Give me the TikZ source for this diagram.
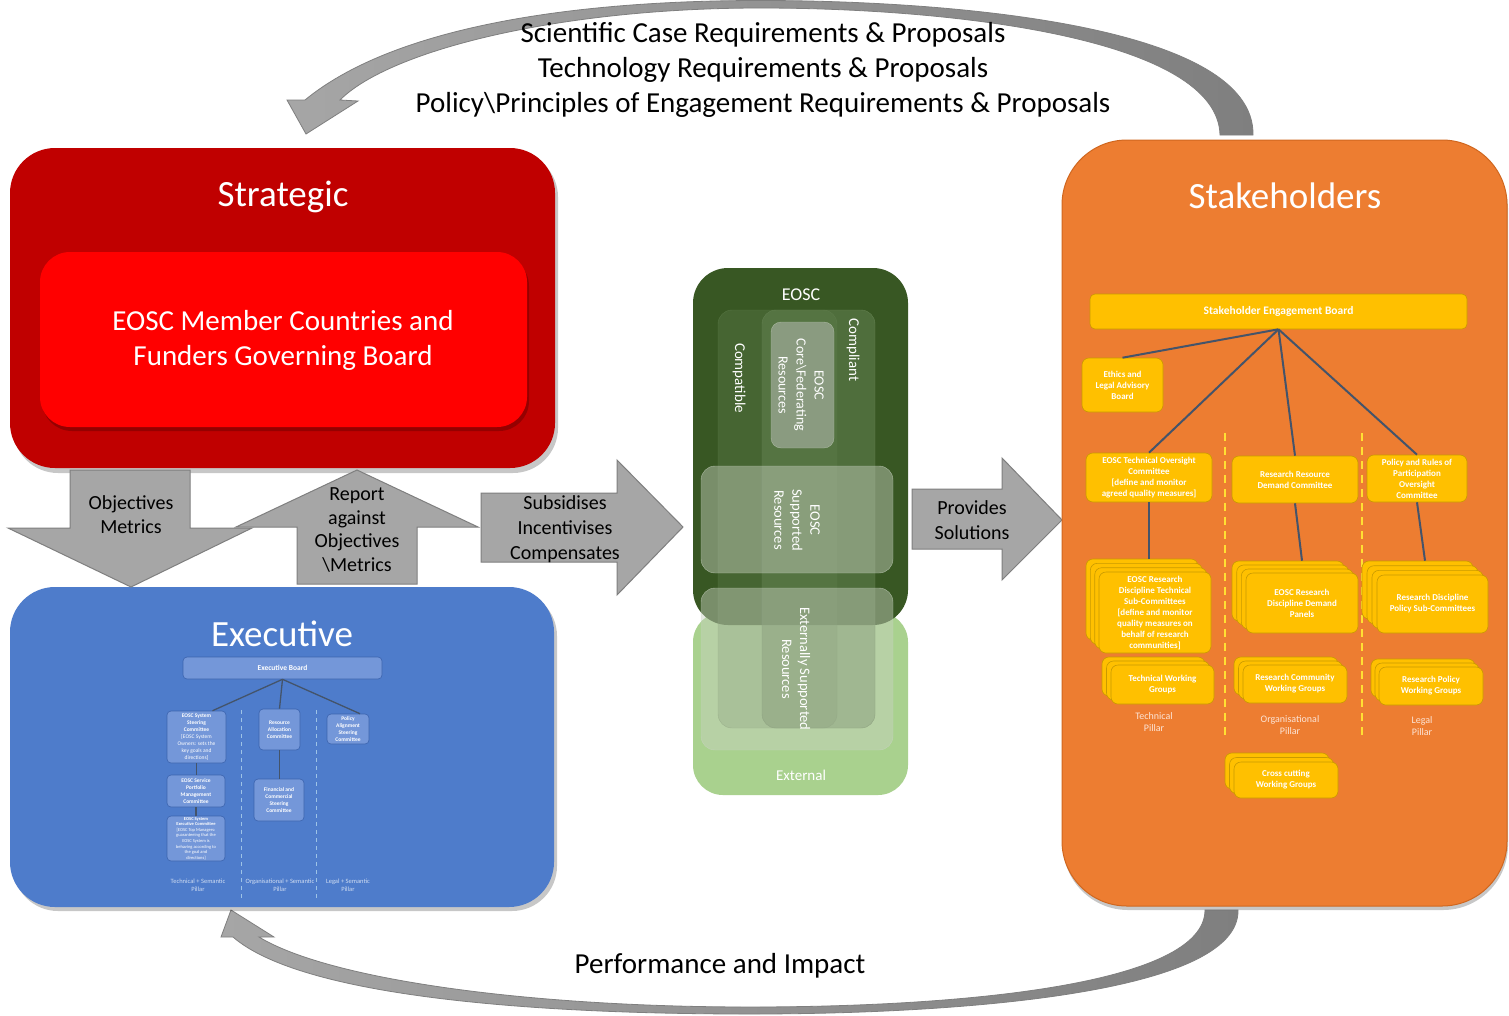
\documentclass[tikz,border=0pt]{standalone}
\usepackage{fontspec}
\setmainfont{Carlito}
\usetikzlibrary{calc}
\definecolor{stratdark}{HTML}{C00000}
\definecolor{stratred}{HTML}{FF0000}
\definecolor{execblue}{HTML}{4E7CCB}
\definecolor{execfill}{HTML}{7497D9}
\definecolor{execborder}{HTML}{3C64AE}
\definecolor{execpillar}{HTML}{D0DDF2}
\definecolor{execdash}{HTML}{9DC3E6}
\definecolor{stakeor}{HTML}{ED7D31}
\definecolor{stakeedge}{HTML}{D0671F}
\definecolor{stakeyel}{HTML}{FFC000}
\definecolor{yeledge}{HTML}{C99A00}
\definecolor{yeldash}{HTML}{FFE033}
\definecolor{pillaror}{HTML}{FCE4D6}
\definecolor{linkcol}{HTML}{44546A}
\definecolor{eoscdark}{HTML}{385723}
\definecolor{eosclight}{HTML}{A9D18E}
\definecolor{colfill}{HTML}{62804F}
\definecolor{coreface}{HTML}{8A9B80}
\definecolor{boxface}{HTML}{C9D2C2}
\definecolor{arrowgrey}{HTML}{A6A6A6}
\definecolor{arrowdark}{HTML}{7F7F7F}
\definecolor{arrowedge}{HTML}{7F7F7F}
\newcommand{\fsz}[2]{\fontsize{#1}{#2}\selectfont}
\tikzset{
  shadowfill/.style={fill=black, fill opacity=0.22, draw=none},
  bigbox/.style={rectangle, draw=none, inner sep=0pt},
  boxtitle/.style={text=white, font=\fsz{37}{44}},
  blockarrow/.style={fill=arrowgrey, draw=arrowedge, line width=1pt, line join=miter},
  arrowtext/.style={align=center, font=\fsz{20}{23.5}, text=black},
  looparrow/.style={draw=arrowedge, line width=0.8pt, left color=arrowgrey, right color=arrowdark},
  enode/.style={rectangle, draw=execborder, fill=execfill, rounded corners=4pt, text=white,
    font=\bfseries\fsz{5.5}{7}, align=center, inner sep=0.5pt, line width=0.6pt},
  elink/.style={draw=linkcol, line width=1.3pt},
  edash/.style={draw=execdash, line width=1pt, dash pattern=on 4pt off 4pt},
  epillar/.style={text=execpillar, font=\fsz{6.5}{7.5}, align=center},
  ynode/.style={rectangle, draw=yeledge, fill=stakeyel, rounded corners=7pt, text=white,
    font=\bfseries\fsz{9}{11}, align=center, inner sep=0.5pt, line width=0.6pt},
  ylayer/.style={rectangle, draw=yeledge, fill=stakeyel, rounded corners=7pt, line width=0.6pt, inner sep=0pt},
  slink/.style={draw=linkcol, line width=2pt},
  ydash/.style={draw=yeldash, line width=1.8pt, dash pattern=on 8pt off 6pt},
  spillar/.style={text=pillaror, font=\fsz{10}{12}, align=center},
  colbox/.style={rectangle, fill=colfill, fill opacity=0.35, draw=colfill, draw opacity=0.6, rounded corners=14pt, inner sep=0pt},
  greybox/.style={rectangle, fill=boxface, fill opacity=0.45, draw=boxface, draw opacity=0.7, rounded corners=14pt, inner sep=0pt},
  gtext/.style={text=white, font=\fsz{15}{18}, align=center},
}
\begin{document}
\begin{tikzpicture}[x=1pt,y=-1pt]
\fill[white] (0,0) rectangle (1509,1015);
\useasboundingbox (0,0) rectangle (1509,1015);

% ---------- loop arrows ----------
\path[looparrow] (1253,135) .. controls (1255,25) and (950,0.5) .. (760,0.5)
  .. controls (560,0.5) and (390,30) .. (305,100) -- (287,100) -- (306,134) -- (358,101) -- (340,100)
  .. controls (390,50) and (560,8) .. (760,8)
  .. controls (960,8) and (1218,40) .. (1220,135) -- cycle;
\node[font=\fsz{29}{35}, align=center] (toptext) at (763,70)
  {Scientific Case Requirements \& Proposals\\Technology Requirements \& Proposals\\Policy\textbackslash Principles of Engagement Requirements \& Proposals};

\path[looparrow] (1238,910) .. controls (1240,995) and (950,1014) .. (750,1014)
  .. controls (520,1014) and (300,995) .. (233,937) -- (221,937) -- (231,910) -- (274,937) -- (259,937)
  .. controls (330,980) and (530,1007) .. (750,1007)
  .. controls (960,1007) and (1205,985) .. (1205,910) -- cycle;
\node[font=\fsz{29}{35}] (bottomtext) at (720,966) {Performance and Impact};

% ---------- Strategic ----------
\fill[shadowfill, rounded corners=45pt] (13,152) rectangle (558,473);
\node[bigbox, fill=stratdark, minimum width=545pt, minimum height=320pt, rounded corners=45pt] (strategic) at (282.5,308) {};
\node[boxtitle] (strattitle) at (283,197) {Strategic};
\fill[shadowfill, rounded corners=30pt] (42,256) rectangle (529,431);
\node[bigbox, fill=stratred, minimum width=487pt, minimum height=175pt, rounded corners=30pt] (govboard) at (283.5,339.5) {};
\node[text=white, font=\fsz{29}{35}, align=center] (govtext) at (283,340) {EOSC Member Countries and\\Funders Governing Board};

% ---------- Executive ----------
\fill[shadowfill, rounded corners=45pt] (13,591) rectangle (557,911);
\node[bigbox, fill=execblue, minimum width=544pt, minimum height=320pt, rounded corners=45pt] (executive) at (282,747) {};
\node[boxtitle] (exectitle) at (282,634) {Executive};

\draw[edash] (241,710) -- (241,898);
\draw[edash] (316,710) -- (316,898);

\node[enode, font=\bfseries\fsz{7.5}{9}, minimum width=199pt, minimum height=22pt] (eb) at (282.5,668) {Executive Board};
\node[enode, minimum width=59pt, minimum height=52pt] (steer) at (196.5,737)
  {EOSC System\\Steering\\Committee\\{\mdseries [EOSC System}\\{\mdseries Owners: sets the}\\{\mdseries key goals and}\\{\mdseries directions]}};
\node[enode, minimum width=58pt, minimum height=32pt] (portfolio) at (196,791)
  {EOSC Service\\Portfolio\\Management\\Committee};
\node[enode, font=\bfseries\fsz{4.5}{5.6}, minimum width=58pt, minimum height=45pt] (execcom) at (196,838.5)
  {EOSC System\\Executive Committee\\{\mdseries [EOSC Top Managers:}\\{\mdseries guaranteeing that the}\\{\mdseries EOSC System is}\\{\mdseries behaving according to}\\{\mdseries the goal and}\\{\mdseries directions]}};
\node[enode, minimum width=41pt, minimum height=41pt] (resalloc) at (279.5,729.5)
  {Resource\\Allocation\\Committee};
\node[enode, minimum width=50pt, minimum height=42pt] (financial) at (279,800)
  {Financial and\\Commercial\\Steering\\Committee};
\node[enode, minimum width=42pt, minimum height=30pt] (polalign) at (348,729)
  {Policy\\Alignment\\Steering\\Committee};

\draw[elink] (eb.south) -- ([xshift=16pt]steer.north);
\draw[elink] (eb.south) -- (resalloc.north);
\draw[elink] (eb.south) -- ([xshift=12pt]polalign.north);
\draw[elink] (steer.south) -- (steer.south |- portfolio.north);
\draw[elink] (portfolio.south) -- (portfolio.south |- execcom.north);
\draw[elink] (resalloc.south) -- (resalloc.south |- financial.north);

\node[epillar] (eptech) at (198,885.5) {Technical + Semantic\\Pillar};
\node[epillar] (eporg) at (280,885.5) {Organisational + Semantic\\Pillar};
\node[epillar] (eplegal) at (348,885.5) {Legal + Semantic\\Pillar};

% ---------- block arrows ----------
\filldraw[blockarrow] (70,470) -- (190,470) -- (190,528) -- (252,528) -- (131,587) -- (8,528) -- (70,528) -- cycle;
\node[arrowtext] (objtext) at (131,514.5) {Objectives\\Metrics};
\filldraw[blockarrow] (357,470) -- (478,527) -- (417,527) -- (417,584) -- (297,584) -- (297,527) -- (236,527) -- cycle;
\node[arrowtext] (reptext) at (357,530) {Report\\against\\Objectives\\\textbackslash Metrics};
\filldraw[blockarrow] (481,493) -- (617,493) -- (617,460) -- (683,527) -- (617,595) -- (617,562) -- (481,562) -- cycle;
\node[arrowtext, font=\fsz{20}{25}] (subtext) at (565,529) {Subsidises\\Incentivises\\Compensates};
\filldraw[blockarrow] (912,489) -- (1002,489) -- (1002,458) -- (1062,520) -- (1002,580) -- (1002,549) -- (912,549) -- cycle;
\node[arrowtext, font=\fsz{20}{25}] (provtext) at (972,520) {Provides\\Solutions};

% ---------- EOSC ----------
\node[bigbox, fill=eosclight, minimum width=215pt, minimum height=183pt, rounded corners=30pt] (external) at (800.5,703.5) {};
\node[bigbox, fill=eoscdark, minimum width=215pt, minimum height=357pt, rounded corners=35pt] (eosc) at (800.5,446.5) {};
\node[gtext, font=\fsz{18}{21}] (eosclabel) at (801,295) {EOSC};
\node[colbox, minimum width=157pt, minimum height=418pt] (compatible) at (796.5,519) {};
\node[colbox, minimum width=113pt, minimum height=418pt] (compliant) at (818.5,519) {};
\node[colbox, minimum width=75pt, minimum height=418pt] (corecol) at (799.5,519) {};
\node[gtext, rotate=-90] (compatlabel) at (739,378) {Compatible};
\node[gtext, rotate=-90] (complabel) at (853,350) {Compliant};
\node[rectangle, fill=coreface, draw=boxface, draw opacity=0.6, rounded corners=10pt, minimum width=63pt, minimum height=126pt, inner sep=0pt] (core) at (802.5,385) {};
\node[gtext, rotate=-90, font=\fsz{14}{18}] (coretext) at (801,385) {EOSC\\Core\textbackslash Federating\\Resources};
\node[greybox, minimum width=192pt, minimum height=107pt] (supported) at (797,519.5) {};
\node[gtext, rotate=-90, font=\fsz{14.5}{18}] (suptext) at (797,520) {EOSC\\Supported\\Resources};
\node[greybox, minimum width=192pt, minimum height=162pt] (extsup) at (797,669) {};
\node[gtext, rotate=-90, font=\fsz{14.5}{18}] (extsuptext) at (796,669) {Externally Supported\\Resources};
\node[gtext] (extlabel) at (801,775) {External};

% ---------- Stakeholders ----------
\fill[shadowfill, rounded corners=65pt] (1063,144) rectangle (1508,910);
\node[bigbox, fill=stakeor, draw=stakeedge, line width=1pt, minimum width=445pt, minimum height=766pt, rounded corners=65pt] (stake) at (1284.5,523) {};
\node[boxtitle] (staketitle) at (1285,196) {Stakeholders};

\draw[ydash] (1225,433) -- (1225,739);
\draw[ydash] (1362,433) -- (1362,739);

\node[ynode, font=\bfseries\fsz{11.5}{13}, rounded corners=5pt, minimum width=377pt, minimum height=35pt] (seb) at (1278.5,311.5) {Stakeholder Engagement Board};
\node[ynode, minimum width=81pt, minimum height=54pt] (ethics) at (1122.5,385) {Ethics and\\Legal Advisory\\Board};
\node[ynode, minimum width=126pt, minimum height=49pt] (techov) at (1149,477.5)
  {EOSC Technical Oversight\\Committee\\{[}define and monitor\\agreed quality measures{]}};
\node[ynode, minimum width=126pt, minimum height=47pt] (rrd) at (1295,479.5) {Research Resource\\Demand Committee};
\node[ynode, minimum width=100pt, minimum height=47pt] (policy) at (1417,478.5) {Policy and Rules of\\Participation\\Oversight\\Committee};

% stacks: technical sub-committees
\node[ylayer, minimum width=112pt, minimum height=81pt] (techsubA) at (1142,599.5) {};
\node[ylayer, minimum width=112pt, minimum height=81pt] (techsubB) at (1146.3,603.8) {};
\node[ylayer, minimum width=112pt, minimum height=81pt] (techsubC) at (1150.7,608.2) {};
\node[ynode, minimum width=112pt, minimum height=81pt] (techsub) at (1155,612.5)
  {EOSC Research\\Discipline Technical\\Sub-Committees\\{[}define and monitor\\quality measures on\\behalf of research\\communities{]}};
% demand panels
\node[ylayer, minimum width=112pt, minimum height=60pt] (demandA) at (1288,591) {};
\node[ylayer, minimum width=112pt, minimum height=60pt] (demandB) at (1292.7,595) {};
\node[ylayer, minimum width=112pt, minimum height=60pt] (demandC) at (1297.3,599) {};
\node[ynode, minimum width=112pt, minimum height=60pt] (demand) at (1302,603) {EOSC Research\\Discipline Demand\\Panels};
% policy sub-committees
\node[ylayer, minimum width=111pt, minimum height=58pt] (polsubA) at (1417.5,590) {};
\node[ylayer, minimum width=111pt, minimum height=58pt] (polsubB) at (1422.5,594.7) {};
\node[ylayer, minimum width=111pt, minimum height=58pt] (polsubC) at (1427.5,599.3) {};
\node[ynode, minimum width=111pt, minimum height=58pt] (polsub) at (1432.5,604) {Research Discipline\\Policy Sub-Committees};
% working groups
\node[ylayer, minimum width=103pt, minimum height=39pt] (twgA) at (1153.5,676.5) {};
\node[ylayer, minimum width=103pt, minimum height=39pt] (twgB) at (1158,680.5) {};
\node[ynode, minimum width=103pt, minimum height=39pt] (twg) at (1162.5,684.5) {Technical Working\\Groups};
\node[ylayer, minimum width=104pt, minimum height=38pt] (rcwgA) at (1286,676) {};
\node[ylayer, minimum width=104pt, minimum height=38pt] (rcwgB) at (1290.5,680) {};
\node[ynode, minimum width=104pt, minimum height=38pt] (rcwg) at (1295,684) {Research Community\\Working Groups};
\node[ylayer, minimum width=104pt, minimum height=38pt] (rpwgA) at (1423,678) {};
\node[ylayer, minimum width=104pt, minimum height=38pt] (rpwgB) at (1427,682) {};
\node[ynode, minimum width=104pt, minimum height=38pt] (rpwg) at (1431,686) {Research Policy\\Working Groups};
\node[ylayer, minimum width=104pt, minimum height=36pt] (ccwgA) at (1277,771) {};
\node[ylayer, minimum width=104pt, minimum height=36pt] (ccwgB) at (1281.5,775.5) {};
\node[ynode, minimum width=104pt, minimum height=36pt] (ccwg) at (1286,780) {Cross cutting\\Working Groups};

\draw[slink] (seb.south) -- (ethics.north);
\draw[slink] (seb.south) -- (techov.north);
\draw[slink] (seb.south) -- (rrd.north);
\draw[slink] (seb.south) -- (policy.north);
\draw[slink] (techov.south) -- (techov.south |- techsubA.north);
\draw[slink] (rrd.south) -- ([xshift=14pt]demandA.north);
\draw[slink] (policy.south) -- ([xshift=7.5pt]polsubA.north);

\node[spillar] (sptech) at (1154,722.5) {Technical\\Pillar};
\node[spillar] (sporg) at (1290,725) {Organisational\\Pillar};
\node[spillar] (splegal) at (1422,726) {Legal\\Pillar};
\end{tikzpicture}
\end{document}
